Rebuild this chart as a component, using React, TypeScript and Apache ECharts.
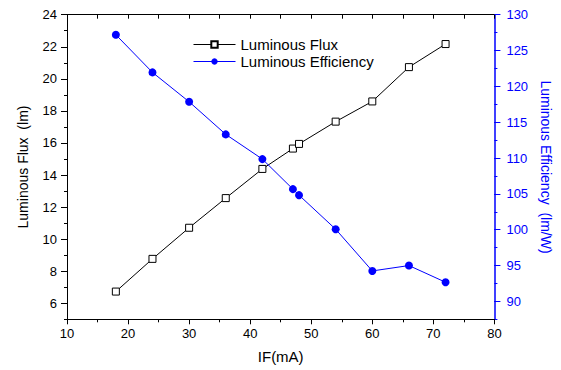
import React, { useEffect, useRef } from "react";
import * as echarts from "echarts";

const currentMA = [18, 24, 30, 36, 42, 47, 48, 54, 60, 66, 72];
const luminousFlux = [6.73, 8.77, 10.71, 12.56, 14.38, 15.65, 15.94, 17.33, 18.59, 20.73, 22.17];
const luminousEfficiency = [127.2, 121.95, 117.85, 113.3, 109.85, 105.66, 104.82, 100.07, 94.25, 95.0, 92.67];
const leftMajorTicks = [6, 8, 10, 12, 14, 16, 18, 20, 22, 24];
const rightMajorTicks = [90, 95, 100, 105, 110, 115, 120, 125, 130];

const FONT = "'Liberation Sans', Arial, sans-serif";
const BLUE = "#0000ff";

export default function App() {
  const ref = useRef<HTMLDivElement>(null);
  useEffect(() => {
    const chart = echarts.init(ref.current!, null, { renderer: "svg" });
    chart.setOption({
      animation: false,
      backgroundColor: "#fff",
      textStyle: { fontFamily: FONT },
      grid: { left: 67, right: 65.5, top: 14.7, bottom: 50.7 },
      legend: {
        orient: "vertical",
        left: 188,
        top: 32,
        itemWidth: 42,
        itemHeight: 8,
        itemGap: 2,
        lineStyle: { width: 1 },
        textStyle: { fontSize: 15, color: "#000", fontFamily: FONT },
        data: ["Luminous Flux", "Luminous Efficiency"],
      },
      xAxis: [
        {
          type: "value",
          position: "bottom",
          min: 10,
          max: 80,
          interval: 10,
          name: "IF(mA)",
          nameLocation: "middle",
          nameGap: 30,
          nameTextStyle: { fontSize: 15, color: "#000" },
          axisLine: { lineStyle: { color: "#000", width: 1 } },
          axisTick: { inside: false, length: 5, lineStyle: { color: "#000" } },
          axisLabel: { fontSize: 13, color: "#000", margin: 8 },
          splitLine: { show: false },
        },
        {
          type: "value",
          position: "bottom",
          min: 10,
          max: 80,
          interval: 5,
          axisLine: { show: false },
          axisTick: { inside: false, length: 3, lineStyle: { color: "#000" } },
          axisLabel: { show: false },
          splitLine: { show: false },
        },
        {
          type: "value",
          position: "top",
          min: 10,
          max: 80,
          interval: 5,
          axisLine: { lineStyle: { color: "#000", width: 1 } },
          axisTick: { inside: true, length: 4, lineStyle: { color: "#000" } },
          axisLabel: { show: false },
          splitLine: { show: false },
        },
      ],
      yAxis: [
        {
          type: "value",
          position: "left",
          min: 5,
          max: 24,
          interval: 1,
          name: "Luminous Flux  (lm)",
          nameLocation: "middle",
          nameGap: 37,
          nameTextStyle: { fontSize: 14, color: "#000" },
          axisLine: { lineStyle: { color: "#000", width: 1 } },
          axisTick: { inside: false, length: 6, customValues: leftMajorTicks, lineStyle: { color: "#000" } },
          axisLabel: { fontSize: 13, color: "#000", margin: 10, customValues: leftMajorTicks },
          splitLine: { show: false },
        },
        {
          type: "value",
          position: "left",
          min: 5,
          max: 24,
          interval: 1,
          axisLine: { show: false },
          axisTick: { inside: false, length: 3, lineStyle: { color: "#000" } },
          axisLabel: { show: false },
          splitLine: { show: false },
        },
        {
          type: "value",
          position: "right",
          min: 87.5,
          max: 130,
          interval: 2.5,
          name: "Luminous Efficiency  (lm/W)",
          nameLocation: "middle",
          nameGap: 43,
          nameRotate: -90,
          nameTextStyle: { fontSize: 14, color: BLUE },
          axisLine: { lineStyle: { color: BLUE, width: 1.5 } },
          axisTick: { inside: false, length: 6, customValues: rightMajorTicks, lineStyle: { color: BLUE } },
          axisLabel: { fontSize: 13, color: BLUE, margin: 12, customValues: rightMajorTicks },
          splitLine: { show: false },
        },
        {
          type: "value",
          position: "right",
          min: 87.5,
          max: 130,
          interval: 2.5,
          axisLine: { show: false },
          axisTick: { inside: false, length: 3, lineStyle: { color: BLUE } },
          axisLabel: { show: false },
          splitLine: { show: false },
        },
      ],
      series: [
        {
          name: "Luminous Flux",
          type: "line",
          xAxisIndex: 0,
          yAxisIndex: 0,
          data: currentMA.map((x, i) => [x, luminousFlux[i]]),
          symbol: "rect",
          symbolSize: 7,
          lineStyle: { color: "#000", width: 1 },
          itemStyle: { color: "#fff", borderColor: "#000", borderWidth: 1 },
        },
        {
          name: "Luminous Efficiency",
          type: "line",
          xAxisIndex: 0,
          yAxisIndex: 2,
          data: currentMA.map((x, i) => [x, luminousEfficiency[i]]),
          symbol: "circle",
          symbolSize: 8,
          lineStyle: { color: BLUE, width: 1 },
          itemStyle: { color: BLUE, borderColor: BLUE, borderWidth: 0 },
        },
      ],
    });
    return () => chart.dispose();
  }, []);
  return <div ref={ref} style={{ width: 561, height: 370, position: "absolute", left: 0, top: 0 }} />;
}
